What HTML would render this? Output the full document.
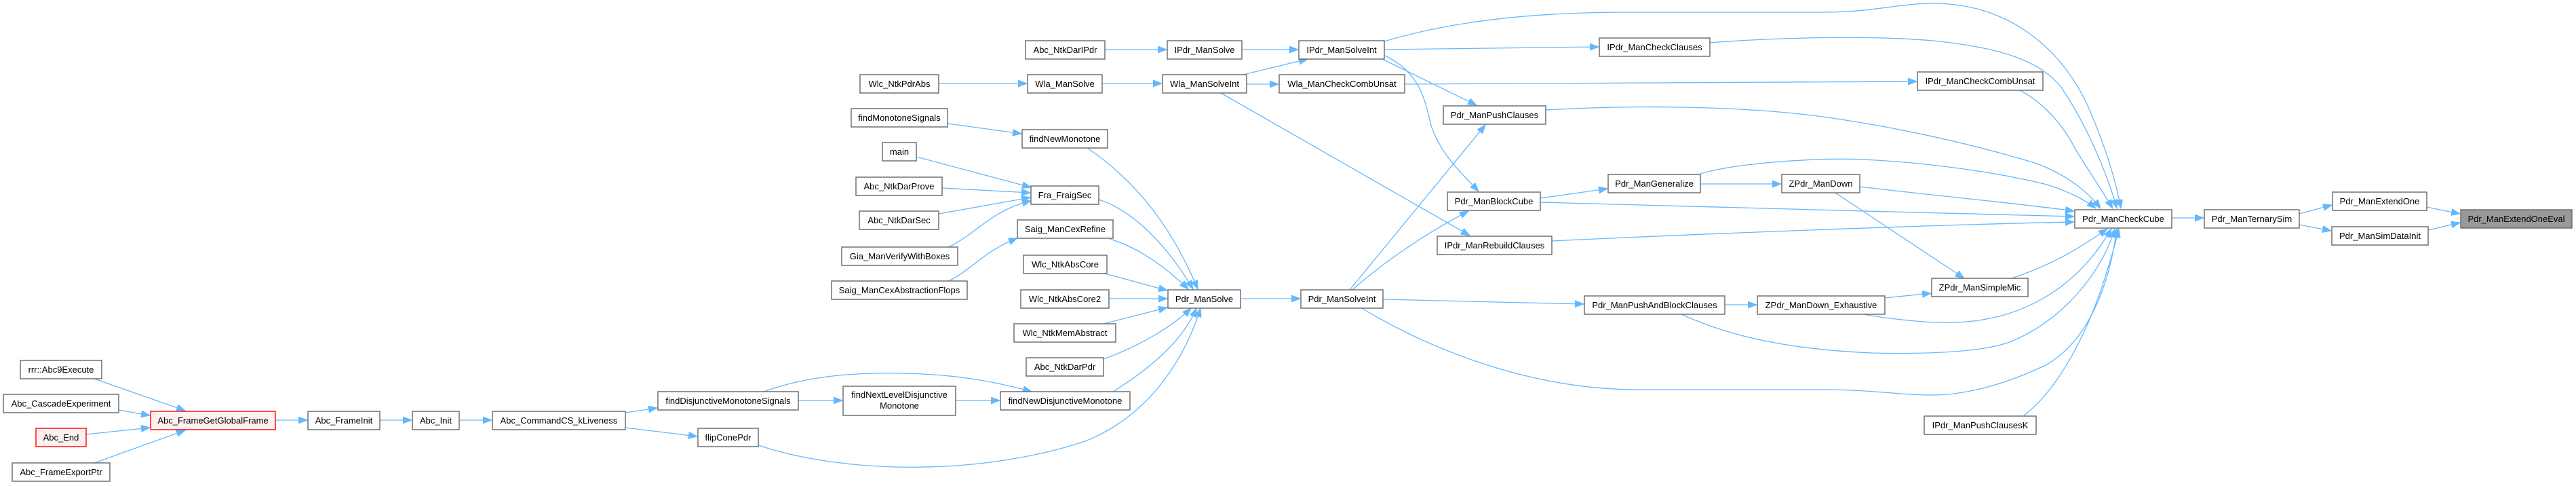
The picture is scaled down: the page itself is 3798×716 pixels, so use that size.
<!DOCTYPE html>
<html>
<head>
<meta charset="utf-8">
<style>
html,body{margin:0;padding:0;background:#fff;}
svg{display:block;}
text{font-family:"Liberation Sans",Arial,sans-serif;font-size:13px;fill:#000;}
.n{fill:#fff;stroke:#666;stroke-width:1.4;}
.r{fill:#fff0f0;stroke:#ff0000;stroke-width:1.4;}
.g{fill:#999;stroke:#666;stroke-width:1.4;}
.e{fill:none;stroke:#63b8ff;stroke-width:1.3;}
</style>
</head>
<body>
<svg width="3798" height="716" viewBox="0 0 3798 716" xmlns="http://www.w3.org/2000/svg">
<defs>
<marker id="a" markerUnits="userSpaceOnUse" markerWidth="15" markerHeight="11" refX="13" refY="5" orient="auto">
<path d="M0,0 L13,5 L0,10 z" fill="#63b8ff" stroke="#63b8ff" stroke-width="1"/>
</marker>
</defs>

<!-- edges -->
<g class="edges">
<path class="e" marker-end="url(#a)" d="M3578,305 L3627,315"/>
<path class="e" marker-end="url(#a)" d="M3580,339 L3627,328"/>
<path class="e" marker-end="url(#a)" d="M3390,315 L3438,302"/>
<path class="e" marker-end="url(#a)" d="M3390,331 L3437,340"/>
<path class="e" marker-end="url(#a)" d="M3202,321 L3249,321"/>

<path class="e" marker-end="url(#a)" d="M2041,61 C2150,28 2280,18 2400,18 L2690,18 C2760,18 2800,5 2850,5 C2960,5 3040,70 3080,160 C3110,230 3122,280 3127,307"/>
<path class="e" marker-end="url(#a)" d="M2521,63 C2620,55 2760,52 2850,60 C2950,70 3010,90 3040,130 C3080,190 3108,260 3121,307"/>
<path class="e" marker-end="url(#a)" d="M2978,133 C3010,150 3040,180 3060,220 C3085,260 3105,290 3115,307"/>
<path class="e" marker-end="url(#a)" d="M2279,162 C2400,155 2560,155 2688,172 C2800,188 2900,210 3000,240 C3050,258 3080,285 3097,307"/>
<path class="e" marker-end="url(#a)" d="M2507,256 C2560,240 2680,232 2748,235 C2850,240 2950,255 3018,272 C3050,282 3075,295 3090,307"/>
<path class="e" marker-end="url(#a)" d="M2742,275 C2850,288 2980,300 3058,311"/>
<path class="e" marker-end="url(#a)" d="M2271,298 C2500,305 2800,312 3058,319"/>
<path class="e" marker-end="url(#a)" d="M2288,355 C2500,345 2850,331 3058,327"/>
<path class="e" marker-end="url(#a)" d="M2706,284 L2896,410"/>
<path class="e" marker-end="url(#a)" d="M2966,410 C3020,392 3060,370 3107,337"/>
<path class="e" marker-end="url(#a)" d="M2779,439 L2847,432"/>
<path class="e" marker-end="url(#a)" d="M2747,463 C2800,472 2860,478 2900,474 C2990,466 3065,420 3113,337"/>
<path class="e" marker-end="url(#a)" d="M2479,463 C2560,500 2650,515 2760,520 C2850,522 2920,518 2960,505 C3040,475 3100,400 3118,337"/>
<path class="e" marker-end="url(#a)" d="M2006,453 C2100,510 2250,574 2415,574 L2688,574 C2760,574 2800,582 2848,582 C2900,582 2960,565 3018,537 C3080,500 3110,420 3121,337"/>
<path class="e" marker-end="url(#a)" d="M2983,613 C3040,570 3080,480 3100,420 C3113,380 3120,355 3124,337"/>

<path class="e" marker-end="url(#a)" d="M2041,73 L2357,69"/>
<path class="e" marker-end="url(#a)" d="M2038,87 L2177,155"/>
<path class="e" marker-end="url(#a)" d="M2042,82 C2090,105 2100,140 2110,185 C2125,230 2160,260 2180,282"/>
<path class="e" marker-end="url(#a)" d="M2071,124 L2826,120"/>
<path class="e" marker-end="url(#a)" d="M1833,110 L1928,87"/>
<path class="e" marker-end="url(#a)" d="M1838,124 L1885,124"/>
<path class="e" marker-end="url(#a)" d="M1800,137 L2167,347"/>
<path class="e" marker-end="url(#a)" d="M1831,73 L1914,73"/>
<path class="e" marker-end="url(#a)" d="M1629,73 L1720,73"/>
<path class="e" marker-end="url(#a)" d="M1384,123 L1514,123"/>
<path class="e" marker-end="url(#a)" d="M1625,123 L1713,123"/>
<path class="e" marker-end="url(#a)" d="M1990,427 L2190,184"/>
<path class="e" marker-end="url(#a)" d="M1994,427 C2030,395 2090,350 2165,311"/>
<path class="e" marker-end="url(#a)" d="M2039,441 L2335,448"/>
<path class="e" marker-end="url(#a)" d="M2271,292 L2370,278"/>
<path class="e" marker-end="url(#a)" d="M2507,271 L2626,271"/>
<path class="e" marker-end="url(#a)" d="M2543,449 L2590,449"/>
<path class="e" marker-end="url(#a)" d="M1829,440 L1917,440"/>

<path class="e" marker-end="url(#a)" d="M1603,218 C1680,270 1730,340 1766,426"/>
<path class="e" marker-end="url(#a)" d="M1620,294 C1670,310 1720,360 1759,426"/>
<path class="e" marker-end="url(#a)" d="M1636,352 C1680,365 1720,395 1752,426"/>
<path class="e" marker-end="url(#a)" d="M1629,403 L1721,428"/>
<path class="e" marker-end="url(#a)" d="M1635,440 L1721,440"/>
<path class="e" marker-end="url(#a)" d="M1627,477 L1721,453"/>
<path class="e" marker-end="url(#a)" d="M1627,529 C1680,510 1730,480 1756,454"/>
<path class="e" marker-end="url(#a)" d="M1641,577 C1700,540 1745,500 1764,454"/>
<path class="e" marker-end="url(#a)" d="M1118,656 C1250,700 1450,700 1600,650 C1700,610 1750,520 1770,454"/>

<path class="e" marker-end="url(#a)" d="M1397,182 L1506,197"/>
<path class="e" marker-end="url(#a)" d="M1351,231 L1520,276"/>
<path class="e" marker-end="url(#a)" d="M1389,277 L1519,284"/>
<path class="e" marker-end="url(#a)" d="M1384,315 L1519,291"/>
<path class="e" marker-end="url(#a)" d="M1398,364 C1440,345 1460,310 1520,296"/>
<path class="e" marker-end="url(#a)" d="M1398,414 C1430,400 1450,370 1500,351"/>

<path class="e" marker-end="url(#a)" d="M1177,590 L1242,590"/>
<path class="e" marker-end="url(#a)" d="M1126,577 C1200,550 1280,549 1330,550 C1400,551 1460,560 1521,577"/>
<path class="e" marker-end="url(#a)" d="M1409,590 L1474,590"/>
<path class="e" marker-end="url(#a)" d="M922,608 L969,601"/>
<path class="e" marker-end="url(#a)" d="M922,630 L1028,643"/>
<path class="e" marker-end="url(#a)" d="M677,619 L725,619"/>
<path class="e" marker-end="url(#a)" d="M560,619 L607,619"/>
<path class="e" marker-end="url(#a)" d="M406,619 L453,619"/>
<path class="e" marker-end="url(#a)" d="M139,558 L273,605"/>
<path class="e" marker-end="url(#a)" d="M175,604 L221,612"/>
<path class="e" marker-end="url(#a)" d="M127,640 L221,630"/>
<path class="e" marker-end="url(#a)" d="M139,682 L273,634"/>
</g>

<!-- nodes -->
<g text-anchor="middle">
<rect class="n" x="30" y="531" width="120" height="27"/><text x="90" y="549">rrr::Abc9Execute</text>
<rect class="n" x="5" y="581" width="170" height="27"/><text x="90" y="599">Abc_CascadeExperiment</text>
<rect class="r" x="53" y="631" width="74" height="27"/><text x="90" y="649">Abc_End</text>
<rect class="n" x="18" y="682" width="144" height="27"/><text x="90" y="700">Abc_FrameExportPtr</text>
<rect class="r" x="222" y="606" width="184" height="27"/><text x="314" y="624">Abc_FrameGetGlobalFrame</text>
<rect class="n" x="454" y="606" width="106" height="27"/><text x="507" y="624">Abc_FrameInit</text>
<rect class="n" x="608" y="606" width="69" height="27"/><text x="642.5" y="624">Abc_Init</text>
<rect class="n" x="726" y="606" width="196" height="27"/><text x="824" y="624">Abc_CommandCS_kLiveness</text>
<rect class="n" x="970" y="577" width="207" height="27"/><text x="1073.5" y="595">findDisjunctiveMonotoneSignals</text>
<rect class="n" x="1029" y="631" width="89" height="27"/><text x="1073.5" y="649">flipConePdr</text>
<rect class="n" x="1243" y="569" width="166" height="43"/><text x="1326" y="586">findNextLevelDisjunctive</text><text x="1326" y="602">Monotone</text>
<rect class="n" x="1475" y="577" width="191" height="27"/><text x="1570.5" y="595">findNewDisjunctiveMonotone</text>

<rect class="n" x="1268" y="110" width="116" height="27"/><text x="1326" y="128">Wlc_NtkPdrAbs</text>
<rect class="n" x="1255" y="160" width="142" height="27"/><text x="1326" y="178">findMonotoneSignals</text>
<rect class="n" x="1301" y="210" width="50" height="27"/><text x="1326" y="228">main</text>
<rect class="n" x="1262" y="261" width="127" height="27"/><text x="1325.5" y="279">Abc_NtkDarProve</text>
<rect class="n" x="1267" y="311" width="117" height="27"/><text x="1325.5" y="329">Abc_NtkDarSec</text>
<rect class="n" x="1241" y="364" width="171" height="27"/><text x="1326.5" y="382">Gia_ManVerifyWithBoxes</text>
<rect class="n" x="1226" y="414" width="200" height="27"/><text x="1326" y="432">Saig_ManCexAbstractionFlops</text>

<rect class="n" x="1512" y="60" width="117" height="27"/><text x="1570.5" y="78">Abc_NtkDarIPdr</text>
<rect class="n" x="1515" y="110" width="110" height="27"/><text x="1570" y="128">Wla_ManSolve</text>
<rect class="n" x="1507" y="191" width="126" height="27"/><text x="1570" y="209">findNewMonotone</text>
<rect class="n" x="1520" y="274" width="100" height="27"/><text x="1570" y="292">Fra_FraigSec</text>
<rect class="n" x="1500" y="324" width="141" height="27"/><text x="1570.5" y="342">Saig_ManCexRefine</text>
<rect class="n" x="1509" y="376" width="123" height="27"/><text x="1570.5" y="394">Wlc_NtkAbsCore</text>
<rect class="n" x="1505" y="427" width="130" height="27"/><text x="1570" y="445">Wlc_NtkAbsCore2</text>
<rect class="n" x="1495" y="477" width="150" height="27"/><text x="1570" y="495">Wlc_NtkMemAbstract</text>
<rect class="n" x="1513" y="527" width="114" height="27"/><text x="1570" y="545">Abc_NtkDarPdr</text>

<rect class="n" x="1721" y="60" width="110" height="27"/><text x="1776" y="78">IPdr_ManSolve</text>
<rect class="n" x="1714" y="110" width="124" height="27"/><text x="1776" y="128">Wla_ManSolveInt</text>
<rect class="n" x="1722" y="427" width="107" height="27"/><text x="1775.5" y="445">Pdr_ManSolve</text>

<rect class="n" x="1915" y="60" width="126" height="27"/><text x="1978" y="78">IPdr_ManSolveInt</text>
<rect class="n" x="1886" y="110" width="185" height="27"/><text x="1978.5" y="128">Wla_ManCheckCombUnsat</text>
<rect class="n" x="1918" y="427" width="121" height="27"/><text x="1978.5" y="445">Pdr_ManSolveInt</text>

<rect class="n" x="2128" y="156" width="151" height="27"/><text x="2203.5" y="174">Pdr_ManPushClauses</text>
<rect class="n" x="2134" y="283" width="137" height="27"/><text x="2202.5" y="301">Pdr_ManBlockCube</text>
<rect class="n" x="2119" y="348" width="169" height="27"/><text x="2203.5" y="366">IPdr_ManRebuildClauses</text>

<rect class="n" x="2358" y="56" width="163" height="27"/><text x="2439.5" y="74">IPdr_ManCheckClauses</text>
<rect class="n" x="2371" y="257" width="136" height="27"/><text x="2439" y="275">Pdr_ManGeneralize</text>
<rect class="n" x="2336" y="436" width="207" height="27"/><text x="2439.5" y="454">Pdr_ManPushAndBlockClauses</text>

<rect class="n" x="2627" y="257" width="115" height="27"/><text x="2684.5" y="275">ZPdr_ManDown</text>
<rect class="n" x="2591" y="436" width="188" height="27"/><text x="2685" y="454">ZPdr_ManDown_Exhaustive</text>

<rect class="n" x="2827" y="106" width="185" height="27"/><text x="2919.5" y="124">IPdr_ManCheckCombUnsat</text>
<rect class="n" x="2848" y="410" width="142" height="27"/><text x="2919" y="428">ZPdr_ManSimpleMic</text>
<rect class="n" x="2837" y="613" width="165" height="27"/><text x="2919.5" y="631">IPdr_ManPushClausesK</text>

<rect class="n" x="3059" y="309" width="143" height="27"/><text x="3130.5" y="327">Pdr_ManCheckCube</text>
<rect class="n" x="3250" y="309" width="140" height="27"/><text x="3320" y="327">Pdr_ManTernarySim</text>
<rect class="n" x="3439" y="283" width="139" height="27"/><text x="3508.5" y="301">Pdr_ManExtendOne</text>
<rect class="n" x="3438" y="334" width="142" height="27"/><text x="3509" y="352">Pdr_ManSimDataInit</text>
<rect class="g" x="3628" y="309" width="164" height="27"/><text x="3710" y="327">Pdr_ManExtendOneEval</text>
</g>
</svg>
</body>
</html>
